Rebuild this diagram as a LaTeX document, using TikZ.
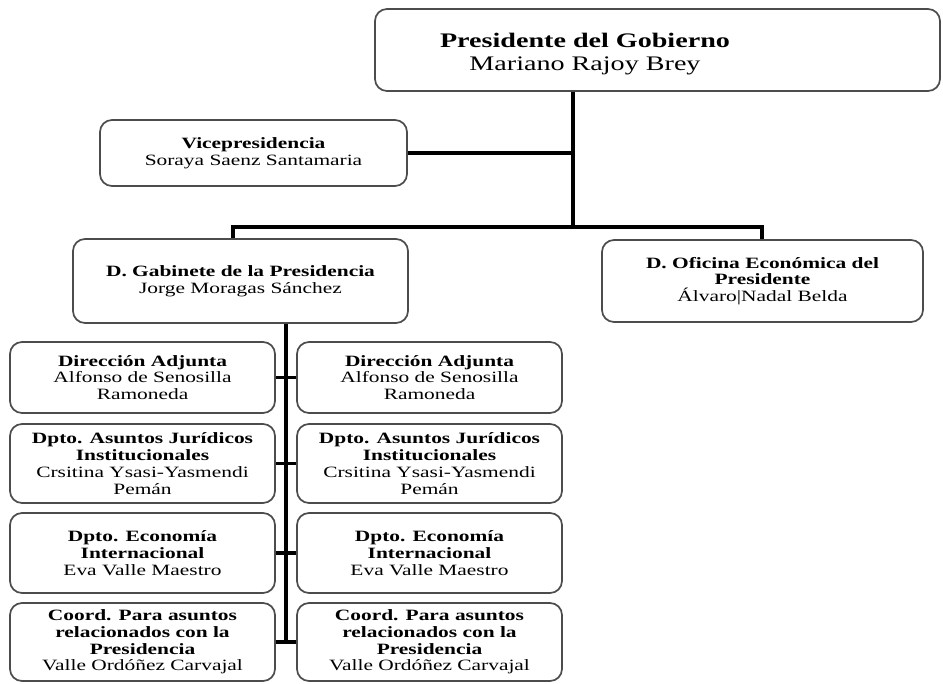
\documentclass[tikz,border=0pt]{standalone}
\usepackage{fontspec}
\setmainfont{Liberation Serif}[FakeStretch=1.36]
\begin{document}
\begin{tikzpicture}[x=0.75pt,y=-0.75pt,
        box/.style={draw=black!70,line width=1.3pt,rounded corners=9pt,inner sep=0pt,
            align=center,font=\fontsize{11.8}{12.6}\selectfont},
        link/.style={line width=2.8pt}]
        \useasboundingbox (0,0) rectangle (943,683);
        % top of the chart
        \node[box,minimum width=423.75pt,minimum height=61.5pt] (pres) at (657.5,50) {};
        \node[align=center,inner sep=0pt,font=\fontsize{15.5}{17.25}\selectfont] (presT) at (585,54)
            {\textbf{Presidente del Gobierno}\\Mariano Rajoy Brey};
        \node[box,minimum width=230.25pt,minimum height=49.5pt] (vice) at (253.5,153)
            {\textbf{Vicepresidencia}\\Soraya Saenz Santamaria};
        \node[box,minimum width=251.25pt,minimum height=63pt] (gab) at (240.5,281)
            {\textbf{D. Gabinete de la Presidencia}\\Jorge Moragas Sánchez};
        \node[box,minimum width=240.75pt,minimum height=61.5pt] (ofi) at (762.5,281)
            {\textbf{D. Oficina Económica del}\\\textbf{Presidente}\\Álvaro|Nadal Belda};
        % departments, left column
        \node[box,minimum width=198.75pt,minimum height=53.25pt] (l1) at (142.5,377.5)
            {\textbf{Dirección Adjunta}\\Alfonso de Senosilla\\Ramoneda};
        \node[box,minimum width=198.75pt,minimum height=59.25pt] (l2) at (142.5,463.5)
            {\textbf{Dpto. Asuntos Jurídicos}\\\textbf{Institucionales}\\Crsitina Ysasi-Yasmendi\\Pemán};
        \node[box,minimum width=198.75pt,minimum height=60pt] (l3) at (142.5,553)
            {\textbf{Dpto. Economía}\\\textbf{Internacional}\\Eva Valle Maestro};
        \node[box,minimum width=198.75pt,minimum height=58.5pt] (l4) at (142.5,642)
            {\textbf{Coord. Para asuntos}\\\textbf{relacionados con la}\\\textbf{Presidencia}\\Valle Ordóñez Carvajal};
        % departments, right column
        \node[box,minimum width=198.75pt,minimum height=53.25pt] (r1) at (429.5,377.5)
            {\textbf{Dirección Adjunta}\\Alfonso de Senosilla\\Ramoneda};
        \node[box,minimum width=198.75pt,minimum height=59.25pt] (r2) at (429.5,463.5)
            {\textbf{Dpto. Asuntos Jurídicos}\\\textbf{Institucionales}\\Crsitina Ysasi-Yasmendi\\Pemán};
        \node[box,minimum width=198.75pt,minimum height=60pt] (r3) at (429.5,553)
            {\textbf{Dpto. Economía}\\\textbf{Internacional}\\Eva Valle Maestro};
        \node[box,minimum width=198.75pt,minimum height=58.5pt] (r4) at (429.5,642)
            {\textbf{Coord. Para asuntos}\\\textbf{relacionados con la}\\\textbf{Presidencia}\\Valle Ordóñez Carvajal};
        \coordinate (jct) at (573,227);
        \coordinate (gabtop) at (233,227);
        \coordinate (ofitop) at (762,227);
        \coordinate (spine) at (286,0);
        \draw[link] (pres.south -| jct) -- (jct);
        \draw[link] (vice.east) -- (vice.east -| jct);
        \draw[link] (gab.north -| gabtop) -- (gabtop) -- (ofitop) -- (ofi.north -| ofitop);
        \draw[link] (gab.south -| spine) -- (l4.east -| spine);
        \draw[link] (l1.east) -- (r1.west);
        \draw[link] (l2.east) -- (r2.west);
        \draw[link] (l3.east) -- (r3.west);
        \draw[link] (l4.east) -- (r4.west);
        \end{tikzpicture}
\end{document}
